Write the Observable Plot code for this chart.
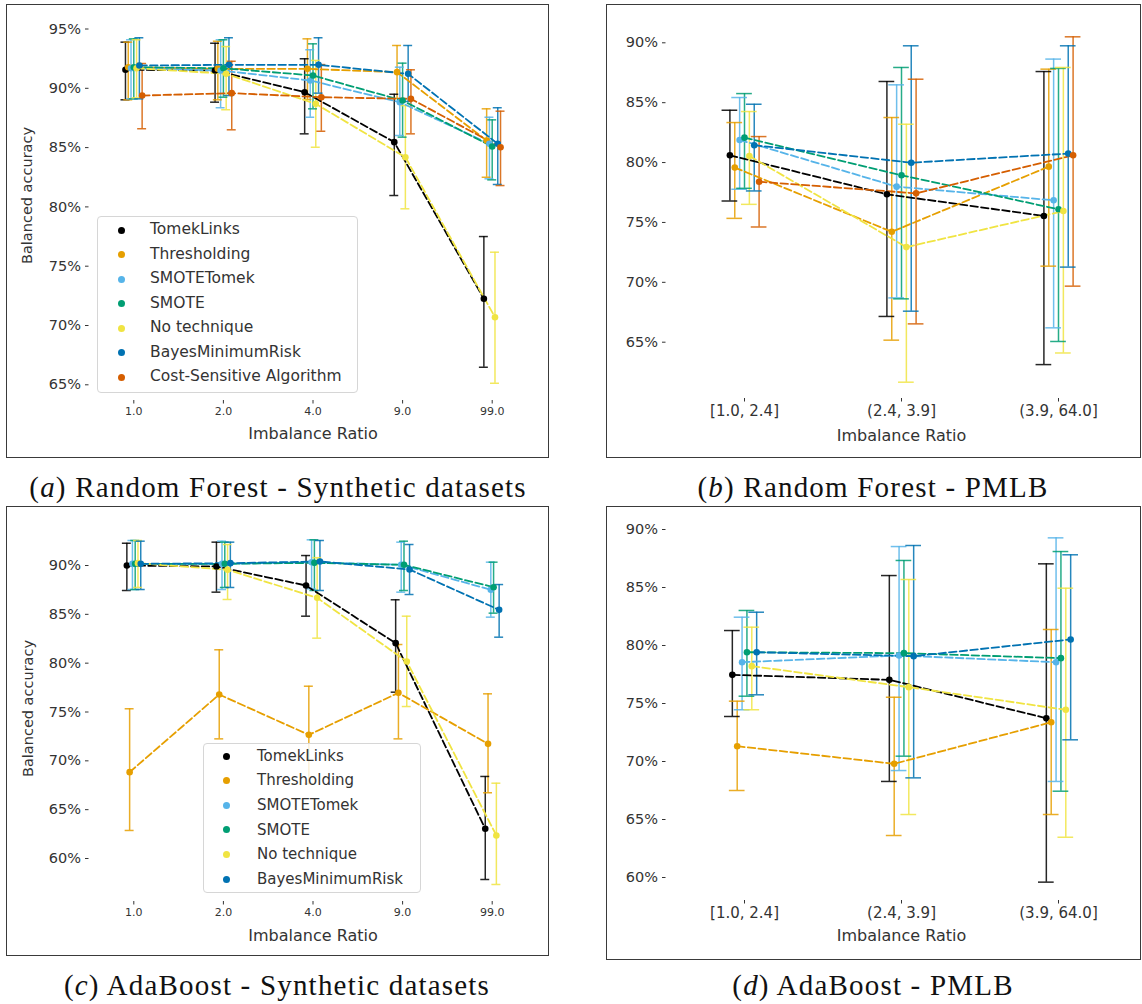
<!DOCTYPE html>
<html>
<head>
<meta charset="utf-8">
<script src="https://cdn.jsdelivr.net/npm/d3@7"></script>
<script src="https://cdn.jsdelivr.net/npm/@observablehq/plot@0.6"></script>
<style>
  html, body { margin: 0; padding: 0; background: #fff; }
  body { width: 1142px; height: 1004px; position: relative; overflow: hidden; font-family: "DejaVu Sans", sans-serif; }
  .holder { position: absolute; }
  .holder svg { display: block; overflow: visible; }
  .frame { position: absolute; border: 1.4px solid #3a3a3a; box-sizing: border-box; pointer-events: none; }
  .cap { position: absolute; font-family: "Liberation Serif", serif; font-size: 29px; letter-spacing: 1.2px; white-space: nowrap; text-align: center; line-height: 34px; color: #111; }
  .legend { position: absolute; border: 1px solid #d6d6d6; border-radius: 4px; background: rgba(255,255,255,0.82); box-sizing: border-box; color: #333; }
  .legend .row { position: absolute; white-space: nowrap; }
  .legend .mk { position: absolute; width: 7px; height: 7px; border-radius: 50%; }
</style>
</head>
<body>
<script>
// ---------- shared ----------
const seriesNames = ["TomekLinks", "Thresholding", "SMOTETomek", "SMOTE", "No technique", "BayesMinimumRisk", "Cost-Sensitive Algorithm"];
const seriesColors = ["#000000", "#E69F00", "#56B4E9", "#009E73", "#F0E442", "#0072B2", "#D55E00"];
const syntheticRatios = ["1.0", "2.0", "4.0", "9.0", "99.0"];
const pmlbRatios = ["[1.0, 2.4]", "(2.4, 3.9]", "(3.9, 64.0]"];
const ticksA = [65, 70, 75, 80, 85, 90, 95];
const ticksB = [65, 70, 75, 80, 85, 90];
const ticksCD = [60, 65, 70, 75, 80, 85, 90];

// ---------- (a) Random Forest - Synthetic datasets (balanced accuracy %) ----------
const rfSynthMean = [
  [91.56, 91.50, 89.67, 85.46, 72.25],
  [91.78, 91.64, 91.64, 91.36, 85.60],
  [91.69, 91.50, 90.66, 88.83, 85.32],
  [91.78, 91.69, 91.08, 88.97, 85.09],
  [91.69, 91.22, 88.69, 84.19, 70.70],
  [91.92, 91.98, 91.98, 91.22, 85.32],
  [89.39, 89.59, 89.25, 89.11, 85.03]
];
const rfSynthLow = [
  [89.03, 88.83, 86.16, 80.96, 66.48],
  [89.03, 89.03, 89.06, 89.14, 82.50],
  [89.11, 88.36, 87.56, 86.02, 82.37],
  [89.11, 89.25, 88.27, 85.88, 82.28],
  [89.20, 88.19, 85.03, 79.84, 65.13],
  [89.11, 89.39, 89.59, 88.89, 81.89],
  [86.59, 86.50, 86.38, 86.16, 81.80]
];
const rfSynthHigh = [
  [93.89, 93.80, 92.49, 89.50, 77.50],
  [93.89, 93.97, 94.17, 93.61, 88.27],
  [94.09, 94.09, 93.25, 91.78, 87.56],
  [94.17, 94.09, 93.75, 92.12, 87.34],
  [94.09, 93.52, 92.35, 88.54, 76.18],
  [94.26, 94.26, 94.26, 93.61, 88.36],
  [92.09, 92.28, 92.00, 91.56, 88.07]
];

// ---------- (b) Random Forest - PMLB ----------
const rfPmlbMean = [
  [80.61, 77.35, 75.54],
  [79.58, 74.22, 79.66],
  [81.89, 77.99, 76.85],
  [82.08, 78.94, 76.10],
  [80.55, 72.94, 75.95],
  [81.45, 79.99, 80.75],
  [78.40, 77.43, 80.61]
];
const rfPmlbLow = [
  [76.79, 67.15, 63.13],
  [75.34, 65.17, 71.35],
  [77.77, 68.70, 66.20],
  [77.85, 68.62, 65.06],
  [76.51, 61.66, 64.10],
  [77.63, 67.59, 71.27],
  [74.62, 66.53, 69.68]
];
const rfPmlbHigh = [
  [84.37, 86.77, 87.60],
  [83.34, 83.76, 87.80],
  [85.43, 86.49, 88.64],
  [85.76, 87.94, 87.86],
  [84.26, 83.20, 87.94],
  [84.87, 89.75, 89.75],
  [82.17, 86.96, 90.50]
];

// ---------- (c) AdaBoost - Synthetic datasets ----------
const adaSynthMean = [
  [90.00, 89.90, 87.95, 82.05, 63.04],
  [68.84, 76.79, 72.66, 76.96, 71.74],
  [90.17, 90.17, 90.34, 90.07, 87.51],
  [90.17, 90.17, 90.27, 90.07, 87.78],
  [90.24, 89.56, 86.69, 80.17, 62.36],
  [90.17, 90.24, 90.41, 89.59, 85.46]
];
const adaSynthLow = [
  [87.44, 87.27, 84.81, 77.03, 57.85],
  [62.87, 72.25, 67.68, 72.25, 66.73],
  [87.54, 87.54, 87.61, 87.27, 84.71],
  [87.54, 87.75, 87.44, 87.44, 85.12],
  [87.75, 86.52, 82.56, 75.56, 57.34],
  [87.54, 87.75, 87.44, 87.03, 82.66]
];
const adaSynthHigh = [
  [92.28, 92.39, 91.02, 86.49, 68.40],
  [75.33, 81.37, 77.64, 81.91, 76.86],
  [92.56, 92.49, 92.63, 92.39, 90.34],
  [92.56, 92.39, 92.63, 92.49, 90.34],
  [92.56, 92.15, 90.80, 84.81, 67.71],
  [92.49, 92.39, 92.56, 92.15, 88.05]
];

// ---------- (d) AdaBoost - PMLB ----------
const adaPmlbMean = [
  [77.47, 77.04, 73.73],
  [71.32, 69.80, 73.39],
  [78.56, 79.14, 78.56],
  [79.42, 79.34, 78.91],
  [78.22, 76.41, 74.46],
  [79.42, 79.08, 80.52]
];
const adaPmlbLow = [
  [73.88, 68.28, 59.60],
  [67.50, 63.62, 65.43],
  [74.46, 69.22, 68.28],
  [75.63, 70.46, 67.44],
  [74.46, 65.43, 63.47],
  [75.75, 68.59, 71.87]
];
const adaPmlbHigh = [
  [81.29, 86.03, 87.04],
  [75.20, 75.54, 81.38],
  [82.44, 88.53, 89.28],
  [83.02, 87.33, 88.10],
  [81.58, 85.69, 84.94],
  [82.87, 88.62, 87.82]
];

const DODGE = 0.031;   // horizontal dodge between hues, in category units
const CAP = 0.05;      // half cap width, in category units

function makeRows(nSeries, mean, low, high) {
  const rows = [];
  for (let i = 0; i < nSeries; i++) {
    for (let j = 0; j < mean[i].length; j++) {
      rows.push({
        series: seriesNames[i],
        x: j + (i - (nSeries - 1) / 2) * DODGE,
        mean: mean[i][j], low: low[i][j], high: high[i][j]
      });
    }
  }
  return rows;
}

function drawPanel(cfg) {
  const {frame, axes, yRef, yTicks, xLabels, nSeries, mean, low, high, xFont, yTitle, yTitlePos, xTitleY} = cfg;
  const k = (yRef[1].px - yRef[0].px) / (yRef[0].v - yRef[1].v);
  const yTop = yRef[0].v + (yRef[0].px - axes.top) / k;
  const yBot = yRef[1].v - (axes.bottom - yRef[1].px) / k;
  const rows = makeRows(nSeries, mean, low, high);
  const n = xLabels.length;
  const marks = [
    Plot.axisY({ticks: yTicks, tickFormat: d => d + "%", tickSize: 3.5, tickPadding: 4.5, fontSize: 14.5, label: null, color: "#333"}),
    Plot.axisX({ticks: d3.range(n), tickFormat: i => xLabels[i], tickSize: 3.5, tickPadding: 3.5, fontSize: xFont, label: null, color: "#333"}),
    Plot.ruleX(rows, {x: "x", y1: "low", y2: "high", stroke: "series", strokeWidth: 1.5, strokeOpacity: 0.85}),
    Plot.ruleY(rows, {y: "high", x1: d => d.x - CAP, x2: d => d.x + CAP, stroke: "series", strokeWidth: 1.5, strokeOpacity: 0.85}),
    Plot.ruleY(rows, {y: "low", x1: d => d.x - CAP, x2: d => d.x + CAP, stroke: "series", strokeWidth: 1.5, strokeOpacity: 0.85}),
    Plot.line(rows, {x: "x", y: "mean", z: "series", stroke: "series", strokeWidth: 1.8, strokeDasharray: "7.5,3.2"}),
    Plot.dot(rows, {x: "x", y: "mean", fill: "series", r: 3.3}),
    Plot.text(["Imbalance Ratio"], {frameAnchor: "bottom", textAnchor: "middle", lineAnchor: "middle", dy: xTitleY - axes.bottom, fontSize: 16, fill: "#333"})
  ];
  if (yTitle) {
    marks.push(Plot.text([yTitle], {frameAnchor: "left", rotate: -90, textAnchor: "middle", lineAnchor: "middle",
      dx: yTitlePos.x - axes.left, dy: yTitlePos.y - (axes.top + axes.bottom) / 2, fontSize: 14.5, fill: "#333"}));
  }
  const chart = Plot.plot({
    width: frame.w, height: frame.h,
    marginLeft: axes.left - frame.x, marginRight: frame.x + frame.w - axes.right,
    marginTop: axes.top - frame.y, marginBottom: frame.y + frame.h - axes.bottom,
    x: {domain: [-0.5, n - 0.5]},
    y: {domain: [yBot, yTop]},
    color: {domain: seriesNames, range: seriesColors},
    style: {fontFamily: "DejaVu Sans", color: "#333", background: "transparent", overflow: "visible"},
    marks
  });
  const holder = document.createElement("div");
  holder.className = "holder";
  holder.style.left = frame.x + "px";
  holder.style.top = frame.y + "px";
  holder.appendChild(chart);
  document.body.appendChild(holder);
  const fr = document.createElement("div");
  fr.className = "frame";
  Object.assign(fr.style, {left: frame.x + "px", top: frame.y + "px", width: frame.w + "px", height: frame.h + "px"});
  document.body.appendChild(fr);
}

function drawLegend(cfg) {
  const {box, nSeries, markX, textX, row0, rowStep, fontSize} = cfg;
  const lg = document.createElement("div");
  lg.className = "legend";
  Object.assign(lg.style, {left: box.x + "px", top: box.y + "px", width: box.w + "px", height: box.h + "px", fontSize: fontSize + "px"});
  for (let i = 0; i < nSeries; i++) {
    const cy = row0 + i * rowStep;
    const mk = document.createElement("div");
    mk.className = "mk";
    Object.assign(mk.style, {left: (markX - 3.5) + "px", top: (cy - 3.5) + "px", background: seriesColors[i]});
    lg.appendChild(mk);
    const t = document.createElement("div");
    t.className = "row";
    t.textContent = seriesNames[i];
    Object.assign(t.style, {left: textX + "px", top: (cy - fontSize * 0.62) + "px", lineHeight: (fontSize * 1.2) + "px"});
    lg.appendChild(t);
  }
  document.body.appendChild(lg);
}

function drawCaption(letter, text, cx, cy) {
  const d = document.createElement("div");
  d.className = "cap";
  d.style.left = (cx - 300) + "px";
  d.style.width = "600px";
  d.style.top = (cy - 17) + "px";
  const open = document.createTextNode("(");
  const it = document.createElement("i");
  it.textContent = letter;
  const rest = document.createTextNode(") " + text);
  d.append(open, it, rest);
  document.body.appendChild(d);
}

// (a)
drawPanel({
  frame: {x: 6, y: 4, w: 543, h: 454},
  axes: {left: 88.5, right: 536.5, top: 10, bottom: 400},
  yRef: [{v: 95, px: 28.5}, {v: 65, px: 384.3}],
  yTicks: ticksA, xLabels: syntheticRatios, nSeries: 7,
  mean: rfSynthMean, low: rfSynthLow, high: rfSynthHigh,
  xFont: 11, yTitle: "Balanced accuracy", yTitlePos: {x: 27, y: 195}, xTitleY: 433
});
drawLegend({box: {x: 97, y: 216, w: 261, h: 177}, nSeries: 7, markX: 23, textX: 52, row0: 13, rowStep: 24.5, fontSize: 15.5});

// (b)
drawPanel({
  frame: {x: 606, y: 4, w: 535, h: 454},
  axes: {left: 665.5, right: 1136.5, top: 10, bottom: 398},
  yRef: [{v: 90, px: 42.3}, {v: 65, px: 341.7}],
  yTicks: ticksB, xLabels: pmlbRatios, nSeries: 7,
  mean: rfPmlbMean, low: rfPmlbLow, high: rfPmlbHigh,
  xFont: 15, yTitle: null, xTitleY: 435
});

// (c)
drawPanel({
  frame: {x: 6, y: 506, w: 543, h: 450},
  axes: {left: 88.5, right: 536.5, top: 512, bottom: 901},
  yRef: [{v: 90, px: 565}, {v: 60, px: 858}],
  yTicks: ticksCD, xLabels: syntheticRatios, nSeries: 6,
  mean: adaSynthMean, low: adaSynthLow, high: adaSynthHigh,
  xFont: 11, yTitle: "Balanced accuracy", yTitlePos: {x: 28, y: 708}, xTitleY: 935
});
drawLegend({box: {x: 203, y: 743, w: 218, h: 150}, nSeries: 6, markX: 22, textX: 53, row0: 12, rowStep: 24.6, fontSize: 15});

// (d)
drawPanel({
  frame: {x: 606, y: 506, w: 535, h: 454},
  axes: {left: 665.5, right: 1136.5, top: 512, bottom: 900},
  yRef: [{v: 90, px: 529}, {v: 60, px: 877}],
  yTicks: ticksCD, xLabels: pmlbRatios, nSeries: 6,
  mean: adaPmlbMean, low: adaPmlbLow, high: adaPmlbHigh,
  xFont: 15, yTitle: null, xTitleY: 935
});

drawCaption("a", "Random Forest - Synthetic datasets", 278, 487);
drawCaption("b", "Random Forest - PMLB", 873, 487);
drawCaption("c", "AdaBoost - Synthetic datasets", 277, 985);
drawCaption("d", "AdaBoost - PMLB", 873, 985);
</script>
</body>
</html>
